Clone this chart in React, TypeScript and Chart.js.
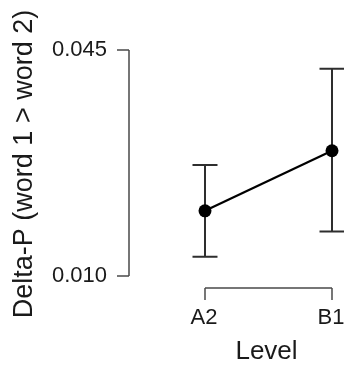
import React, { useEffect, useRef } from "react";
import { Chart, registerables } from "chart.js";

Chart.register(...registerables);

const categories = ["A2", "B1"];
const meanValues = [0.0201, 0.0294];
const upperValues = [0.0272, 0.0421];
const lowerValues = [0.013, 0.0169];
const yTickValues = [0.01, 0.045];
const yTickLabels = ["0.010", "0.045"];
const yTitle = "Delta-P (word 1 > word 2)";
const xTitle = "Level";

const FONT = "'Liberation Sans', Arial, Helvetica, sans-serif";

const rPlot = {
  id: "rPlot",
  beforeDatasetsDraw(chart: any) {
    const ctx = chart.ctx;
    const xs = chart.scales.x;
    const ys = chart.scales.y;
    ctx.save();
    ctx.strokeStyle = "#2e2e2e";
    ctx.lineWidth = 2;
    const cap = 12.5;
    categories.forEach((_, i) => {
      const px = xs.getPixelForValue(i + 1);
      const top = ys.getPixelForValue(upperValues[i]);
      const bot = ys.getPixelForValue(lowerValues[i]);
      ctx.beginPath();
      ctx.moveTo(px, top);
      ctx.lineTo(px, bot);
      ctx.moveTo(px - cap, top);
      ctx.lineTo(px + cap, top);
      ctx.moveTo(px - cap, bot);
      ctx.lineTo(px + cap, bot);
      ctx.stroke();
    });
    ctx.restore();
  },
  afterDraw(chart: any) {
    const ctx = chart.ctx;
    const xs = chart.scales.x;
    const ys = chart.scales.y;
    const area = chart.chartArea;
    ctx.save();
    ctx.strokeStyle = "#4a4a4a";
    ctx.lineWidth = 1.5;
    // y axis
    const ax = area.left;
    const y0 = ys.getPixelForValue(yTickValues[0]);
    const y1 = ys.getPixelForValue(yTickValues[yTickValues.length - 1]);
    ctx.beginPath();
    ctx.moveTo(ax, y0);
    ctx.lineTo(ax, y1);
    yTickValues.forEach((v) => {
      const py = ys.getPixelForValue(v);
      ctx.moveTo(ax - 12, py);
      ctx.lineTo(ax, py);
    });
    ctx.stroke();
    // x axis
    const ay = area.bottom;
    const x0 = xs.getPixelForValue(1);
    const x1 = xs.getPixelForValue(categories.length);
    ctx.beginPath();
    ctx.moveTo(x0, ay);
    ctx.lineTo(x1, ay);
    categories.forEach((_, i) => {
      const px = xs.getPixelForValue(i + 1);
      ctx.moveTo(px, ay);
      ctx.lineTo(px, ay + 12);
    });
    ctx.stroke();

    ctx.fillStyle = "#1a1a1a";
    ctx.font = `22px ${FONT}`;
    ctx.textAlign = "right";
    ctx.textBaseline = "middle";
    yTickValues.forEach((v, i) => {
      ctx.fillText(yTickLabels[i], ax - 22, ys.getPixelForValue(v));
    });
    ctx.textAlign = "center";
    categories.forEach((c, i) => {
      ctx.fillText(c, xs.getPixelForValue(i + 1) - 1, ay + 30);
    });
    ctx.font = `26px ${FONT}`;
    ctx.fillText(xTitle, 266.5, ay + 64);
    ctx.font = `27px ${FONT}`;
    ctx.translate(25, 164);
    ctx.rotate(-Math.PI / 2);
    ctx.fillText(yTitle, 0, 0);
    ctx.restore();
  },
};

export default function App() {
  const ref = useRef<HTMLCanvasElement | null>(null);
  useEffect(() => {
    document.body.style.margin = "0";
    const canvas = ref.current;
    if (!canvas) return;
    const chart = new Chart(canvas, {
      type: "line",
      data: {
        datasets: [
          {
            data: meanValues.map((v, i) => ({ x: i + 1, y: v })),
            borderColor: "#000000",
            borderWidth: 2.2,
            pointRadius: 6.5,
            pointBackgroundColor: "#000000",
            pointBorderColor: "#000000",
            pointBorderWidth: 0,
            clip: false as any,
          },
        ],
      },
      options: {
        animation: false,
        responsive: false,
        devicePixelRatio: 1,
        layout: {
          autoPadding: false,
          padding: { left: 129, top: 41, right: 0, bottom: 78 },
        },
        plugins: { legend: { display: false }, tooltip: { enabled: false } },
        scales: {
          x: { type: "linear", display: false, min: 0.4016, max: 2.0945 },
          y: { type: "linear", display: false, min: 0.008142, max: 0.046394 },
        },
      },
      plugins: [rPlot],
    });
    return () => chart.destroy();
  }, []);
  return (
    <canvas
      ref={ref}
      width={344}
      height={366}
      style={{ display: "block", position: "absolute", left: 0, top: 0 }}
    />
  );
}
